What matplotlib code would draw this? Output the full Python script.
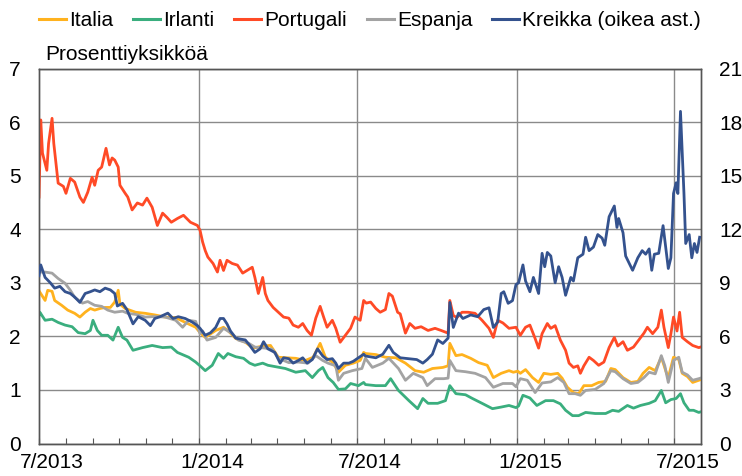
import matplotlib
matplotlib.use("Agg")
import matplotlib.pyplot as plt
import matplotlib.dates as mdates
from matplotlib.lines import Line2D
import pandas as pd

plt.rcParams['font.family'] = ['Liberation Sans', 'DejaVu Sans']

# ---------------- data ----------------
series_names = ["Italia", "Irlanti", "Portugali", "Espanja", "Kreikka (oikea ast.)"]

greece_dates = [
 "2013-07-01","2013-07-03","2013-07-08","2013-07-14","2013-07-19","2013-07-25","2013-07-31","2013-08-06","2013-08-11","2013-08-17",
 "2013-08-23","2013-08-29","2013-09-03","2013-09-09","2013-09-15","2013-09-21","2013-09-26","2013-09-29","2013-10-05","2013-10-10",
 "2013-10-17","2013-10-23","2013-10-31","2013-11-06","2013-11-11","2013-11-17","2013-11-26","2013-12-02","2013-12-08","2013-12-16",
 "2013-12-24","2013-12-30",
 "2014-01-02","2014-01-08","2014-01-14","2014-01-20","2014-01-25","2014-01-29","2014-02-02","2014-02-06","2014-02-12","2014-02-17",
 "2014-02-23","2014-02-28","2014-03-06","2014-03-12","2014-03-16","2014-03-21","2014-03-29","2014-04-04","2014-04-08","2014-04-14",
 "2014-04-19","2014-04-25","2014-04-30","2014-05-05","2014-05-11","2014-05-17","2014-05-23","2014-05-28","2014-06-03","2014-06-07",
 "2014-06-10","2014-06-16","2014-06-22","2014-06-27","2014-07-03","2014-07-09","2014-07-11","2014-07-23","2014-07-31","2014-08-07",
 "2014-08-12","2014-08-20","2014-08-30","2014-09-08","2014-09-15","2014-09-20","2014-09-26","2014-10-02","2014-10-08","2014-10-14",
 "2014-10-16","2014-10-20","2014-10-26","2014-10-31","2014-11-09","2014-11-17","2014-11-24","2014-11-30","2014-12-05","2014-12-10",
 "2014-12-14","2014-12-17","2014-12-22","2014-12-27","2014-12-31",
 "2015-01-03","2015-01-08","2015-01-11","2015-01-16","2015-01-20","2015-01-26","2015-01-30","2015-02-02","2015-02-05","2015-02-09",
 "2015-02-14","2015-02-18","2015-02-22","2015-02-26","2015-03-04","2015-03-07","2015-03-12","2015-03-18","2015-03-21","2015-03-25",
 "2015-03-30","2015-04-04","2015-04-09","2015-04-12","2015-04-17","2015-04-23","2015-04-26","2015-04-28","2015-05-03","2015-05-06",
 "2015-05-10","2015-05-14","2015-05-20","2015-05-25","2015-05-29","2015-06-02","2015-06-05","2015-06-08","2015-06-13","2015-06-18",
 "2015-06-21","2015-06-24","2015-06-27","2015-06-30","2015-07-03","2015-07-05","2015-07-08","2015-07-12","2015-07-14","2015-07-18",
 "2015-07-21","2015-07-24","2015-07-27","2015-07-30"]
greece_vals = [
 9.4,10.0,9.3,9.0,8.7,8.8,8.5,8.4,8.2,7.9,
 8.4,8.5,8.6,8.5,8.7,8.6,8.4,7.7,7.85,7.5,
 6.7,7.1,6.9,6.6,7.0,7.1,7.3,7.0,7.1,7.0,
 6.8,6.6,
 6.45,6.06,6.2,6.5,7.0,7.0,6.7,6.3,5.9,5.85,
 5.8,5.5,5.1,5.3,5.7,5.3,5.1,4.5,4.8,4.75,
 4.5,4.65,4.8,4.5,4.7,5.3,4.9,4.7,4.75,4.5,
 4.2,4.5,4.5,4.6,4.8,5.0,4.9,4.8,5.0,5.5,
 5.1,4.8,4.75,4.7,4.5,4.7,5.0,5.8,5.6,5.9,
 7.9,6.5,7.3,7.0,7.2,7.1,7.5,7.6,6.5,6.8,
 8.4,8.5,7.85,8.0,8.9,
 9.0,10.0,9.1,8.5,9.3,8.4,10.65,9.9,10.7,10.5,
 9.0,9.9,9.3,8.3,9.3,9.1,10.4,10.6,11.55,10.8,
 11.0,11.7,11.5,11.1,12.7,13.3,12.1,12.6,11.8,10.5,
 10.1,9.7,10.4,10.8,10.6,10.9,9.7,10.6,10.65,12.2,
 11.0,9.8,10.4,14.0,14.6,14.0,18.6,14.0,11.2,11.7,
 10.4,11.2,10.7,11.55]

portugal_dates = [
 "2013-07-01","2013-07-03","2013-07-05","2013-07-10","2013-07-12","2013-07-16","2013-07-18","2013-07-23","2013-07-29","2013-08-01",
 "2013-08-06","2013-08-11","2013-08-17","2013-08-21","2013-08-26","2013-08-31","2013-09-03","2013-09-07","2013-09-11","2013-09-16",
 "2013-09-20","2013-09-23","2013-09-26","2013-09-30","2013-10-02","2013-10-08","2013-10-11","2013-10-16","2013-10-22","2013-10-28",
 "2013-11-02","2013-11-08","2013-11-14","2013-11-20","2013-11-25","2013-11-30","2013-12-07","2013-12-14","2013-12-22","2013-12-30",
 "2014-01-02","2014-01-05","2014-01-08","2014-01-11","2014-01-17","2014-01-22","2014-01-25","2014-01-29","2014-02-02","2014-02-08",
 "2014-02-14","2014-02-20","2014-02-25","2014-03-03","2014-03-06","2014-03-10","2014-03-15","2014-03-18","2014-03-21","2014-03-27",
 "2014-04-02","2014-04-08","2014-04-14","2014-04-19","2014-04-25","2014-04-30","2014-05-05","2014-05-10","2014-05-15","2014-05-20",
 "2014-05-24","2014-05-28","2014-06-03","2014-06-07","2014-06-12","2014-06-18","2014-06-24","2014-06-29","2014-07-05","2014-07-09",
 "2014-07-12","2014-07-17","2014-07-23","2014-07-28","2014-08-03","2014-08-07","2014-08-11","2014-08-17","2014-08-20","2014-08-26",
 "2014-08-31","2014-09-06","2014-09-13","2014-09-21","2014-09-29","2014-10-06","2014-10-14","2014-10-16","2014-10-20","2014-10-24",
 "2014-10-30","2014-11-06","2014-11-14","2014-11-22","2014-11-30","2014-12-05","2014-12-10","2014-12-16","2014-12-23","2014-12-31",
 "2015-01-05","2015-01-11","2015-01-16","2015-01-22","2015-01-26","2015-01-30","2015-02-05","2015-02-09","2015-02-14","2015-02-20",
 "2015-02-26","2015-03-02","2015-03-07","2015-03-12","2015-03-15","2015-03-19","2015-03-25","2015-03-30","2015-04-05","2015-04-11",
 "2015-04-17","2015-04-23","2015-04-27","2015-05-03","2015-05-08","2015-05-15","2015-05-21","2015-05-27","2015-05-31","2015-06-06",
 "2015-06-12","2015-06-16","2015-06-19","2015-06-24","2015-06-27","2015-06-30","2015-07-04","2015-07-07","2015-07-10","2015-07-16",
 "2015-07-22","2015-07-29","2015-07-31"]
portugal_vals = [
 4.60,6.04,5.42,5.10,5.6,6.07,5.6,4.86,4.80,4.67,
 4.95,4.88,4.60,4.50,4.69,4.97,4.82,5.10,5.16,5.51,
 5.2,5.33,5.29,5.16,4.82,4.67,4.6,4.36,4.49,4.45,
 4.58,4.41,4.07,4.30,4.22,4.13,4.2,4.26,4.13,4.07,
 3.98,3.76,3.6,3.48,3.36,3.2,3.42,3.23,3.42,3.36,
 3.33,3.18,3.23,3.29,3.1,2.80,3.1,2.80,2.67,2.54,
 2.45,2.36,2.34,2.21,2.17,2.24,2.11,2.02,2.34,2.56,
 2.36,2.17,2.3,2.15,1.89,2.02,2.15,2.36,2.30,2.67,
 2.62,2.64,2.52,2.45,2.5,2.80,2.75,2.45,2.42,2.06,
 2.24,2.15,2.18,2.11,2.15,2.11,2.06,2.67,2.39,2.35,
 2.45,2.45,2.43,2.30,2.15,1.98,2.30,2.25,2.15,2.17,
 2.02,2.17,2.21,1.96,1.78,2.05,2.24,2.15,2.2,1.93,
 1.74,1.50,1.42,1.45,1.31,1.45,1.61,1.55,1.46,1.52,
 1.79,1.98,1.82,1.90,1.74,1.80,1.93,2.06,2.17,2.05,
 2.17,2.49,2.17,1.79,2.05,2.36,2.1,2.45,1.98,1.90,
 1.83,1.79,1.80]

italy_dates = [
 "2013-07-01","2013-07-08","2013-07-11","2013-07-16","2013-07-19","2013-07-27","2013-08-03","2013-08-11","2013-08-17","2013-08-23",
 "2013-08-29","2013-09-03","2013-09-09","2013-09-15","2013-09-21","2013-09-26","2013-09-30","2013-10-02","2013-10-08","2013-10-20",
 "2013-10-31","2013-11-11","2013-11-23","2013-12-05","2013-12-16","2013-12-28",
 "2014-01-02","2014-01-08","2014-01-20","2014-01-29","2014-02-03","2014-02-12","2014-02-23","2014-03-04","2014-03-15","2014-03-24",
 "2014-04-02","2014-04-12","2014-04-22","2014-05-03","2014-05-12","2014-05-20","2014-05-26","2014-06-04","2014-06-10","2014-06-18",
 "2014-06-27","2014-07-05","2014-07-09","2014-07-11","2014-07-23","2014-08-03","2014-08-15","2014-08-26","2014-09-06","2014-09-16",
 "2014-09-26","2014-10-08","2014-10-14","2014-10-16","2014-10-23","2014-10-30","2014-11-09","2014-11-18","2014-11-28","2014-12-05",
 "2014-12-14","2014-12-23","2014-12-28",
 "2015-01-02","2015-01-05","2015-01-11","2015-01-19","2015-01-26","2015-02-01","2015-02-09","2015-02-17","2015-02-22","2015-02-28",
 "2015-03-07","2015-03-13","2015-03-19","2015-03-28","2015-04-05","2015-04-13","2015-04-19","2015-04-24","2015-05-03","2015-05-12",
 "2015-05-20","2015-05-26","2015-06-02","2015-06-09","2015-06-16","2015-06-21","2015-06-24","2015-06-30","2015-07-06","2015-07-10",
 "2015-07-16","2015-07-22","2015-07-29","2015-07-31"]
italy_vals = [
 2.85,2.67,2.86,2.84,2.67,2.58,2.49,2.43,2.36,2.45,
 2.52,2.49,2.52,2.54,2.54,2.64,2.86,2.6,2.52,2.45,
 2.43,2.40,2.36,2.35,2.26,2.17,
 2.07,1.98,2.11,2.17,2.11,1.96,1.89,1.78,1.82,1.83,
 1.61,1.60,1.59,1.55,1.61,1.87,1.61,1.51,1.33,1.46,
 1.50,1.55,1.70,1.68,1.66,1.61,1.60,1.50,1.36,1.33,
 1.40,1.42,1.45,1.87,1.64,1.66,1.59,1.51,1.46,1.23,
 1.31,1.36,1.33,
 1.35,1.31,1.38,1.23,1.14,1.31,1.29,1.31,1.22,1.05,
 0.95,0.93,1.08,1.08,1.14,1.16,1.40,1.38,1.23,1.14,
 1.16,1.31,1.42,1.36,1.61,1.36,1.23,1.61,1.57,1.31,
 1.25,1.14,1.18,1.19]

spain_dates = [
 "2013-07-01","2013-07-08","2013-07-16","2013-07-23","2013-07-31","2013-08-06","2013-08-11","2013-08-20","2013-08-26","2013-09-03",
 "2013-09-11","2013-09-18","2013-09-26","2013-10-05","2013-10-11","2013-10-20","2013-10-31","2013-11-11","2013-11-23","2013-12-05",
 "2013-12-13","2013-12-20","2013-12-28",
 "2014-01-02","2014-01-05","2014-01-10","2014-01-20","2014-01-29","2014-02-08","2014-02-15","2014-02-27","2014-03-06","2014-03-18",
 "2014-03-26","2014-04-02","2014-04-14","2014-04-25","2014-05-06","2014-05-15","2014-05-23","2014-05-29","2014-06-07","2014-06-10",
 "2014-06-16","2014-06-26","2014-07-07","2014-07-11","2014-07-19","2014-07-31","2014-08-07","2014-08-18","2014-08-26","2014-09-04",
 "2014-09-15","2014-09-20","2014-09-29","2014-10-09","2014-10-14","2014-10-16","2014-10-23","2014-11-03","2014-11-14","2014-11-26",
 "2014-12-05","2014-12-16","2014-12-27","2014-12-31",
 "2015-01-05","2015-01-13","2015-01-22","2015-01-30","2015-02-09","2015-02-17","2015-02-24","2015-03-02","2015-03-09","2015-03-15",
 "2015-03-21","2015-04-01","2015-04-11","2015-04-19","2015-04-24","2015-05-03","2015-05-12","2015-05-20","2015-05-27","2015-06-02",
 "2015-06-09","2015-06-16","2015-06-20","2015-06-24","2015-06-30","2015-07-06","2015-07-10","2015-07-16","2015-07-22","2015-07-29",
 "2015-07-31"]
spain_vals = [
 3.2,3.2,3.18,3.08,2.99,2.86,2.73,2.62,2.65,2.58,
 2.56,2.49,2.45,2.47,2.43,2.41,2.36,2.37,2.36,2.30,
 2.17,2.30,2.28,
 2.05,2.1,1.93,1.98,2.15,2.05,1.93,1.87,1.80,1.78,
 1.76,1.59,1.51,1.52,1.50,1.64,1.55,1.50,1.45,1.18,
 1.31,1.36,1.40,1.59,1.42,1.50,1.59,1.40,1.18,1.31,
 1.23,1.08,1.21,1.21,1.22,1.55,1.36,1.34,1.31,1.23,
 1.05,1.12,1.12,1.06,
 1.21,1.18,0.95,1.13,1.15,1.23,1.14,0.93,0.93,0.90,
 0.99,1.01,1.12,1.36,1.34,1.21,1.12,1.14,1.23,1.33,
 1.30,1.64,1.45,1.14,1.55,1.61,1.33,1.28,1.18,1.21,
 1.22]

ireland_dates = [
 "2013-07-01","2013-07-02","2013-07-08","2013-07-16","2013-07-23","2013-07-31","2013-08-08","2013-08-15","2013-08-23","2013-08-29",
 "2013-09-01","2013-09-06","2013-09-11","2013-09-18","2013-09-24","2013-09-30","2013-10-05","2013-10-10","2013-10-17","2013-10-28",
 "2013-11-08","2013-11-20","2013-11-30","2013-12-07","2013-12-20","2013-12-28",
 "2014-01-02","2014-01-08","2014-01-16","2014-01-23","2014-01-29","2014-02-03","2014-02-12","2014-02-21","2014-02-28","2014-03-06",
 "2014-03-15","2014-03-21","2014-03-31","2014-04-10","2014-04-22","2014-05-03","2014-05-11","2014-05-18","2014-05-23","2014-05-29",
 "2014-06-04","2014-06-10","2014-06-18","2014-06-24","2014-07-03","2014-07-09","2014-07-11","2014-07-23","2014-08-03","2014-08-09",
 "2014-08-18","2014-08-30","2014-09-09","2014-09-15","2014-09-21","2014-10-02","2014-10-11","2014-10-16","2014-10-23","2014-11-03",
 "2014-11-11","2014-11-22","2014-12-04","2014-12-14","2014-12-23","2014-12-31",
 "2015-01-03","2015-01-08","2015-01-16","2015-01-24","2015-02-03","2015-02-12","2015-02-20","2015-02-26","2015-03-06","2015-03-13",
 "2015-03-21","2015-04-01","2015-04-13","2015-04-21","2015-04-28","2015-05-08","2015-05-15","2015-05-23","2015-06-02","2015-06-09",
 "2015-06-16","2015-06-21","2015-06-27","2015-07-03","2015-07-08","2015-07-12","2015-07-18","2015-07-23","2015-07-29","2015-07-31"]
ireland_vals = [
 2.39,2.45,2.30,2.32,2.26,2.21,2.18,2.07,2.05,2.11,
 2.30,2.11,2.02,2.02,1.93,2.17,1.98,1.93,1.74,1.79,
 1.83,1.79,1.80,1.70,1.61,1.52,
 1.45,1.36,1.46,1.68,1.59,1.68,1.62,1.59,1.50,1.46,
 1.50,1.46,1.43,1.40,1.33,1.36,1.23,1.36,1.42,1.23,
 1.14,1.01,1.02,1.12,1.08,1.14,1.10,1.08,1.08,1.21,
 0.99,0.80,0.65,0.84,0.75,0.75,0.80,1.08,0.93,0.91,
 0.84,0.75,0.65,0.68,0.71,0.67,
 0.70,0.90,0.85,0.71,0.80,0.80,0.74,0.62,0.52,0.52,
 0.58,0.56,0.56,0.62,0.60,0.71,0.66,0.71,0.75,0.80,
 0.99,0.76,0.82,0.84,0.93,0.76,0.62,0.62,0.58,0.59]

# month boundaries with vertical gridlines; labels sit in the middle of the month
grid_dates = ["2014-01-01", "2014-07-01", "2015-01-01", "2015-07-01"]
label_dates = ["2013-07-16", "2014-01-16", "2014-07-16", "2015-01-16", "2015-07-16"]
tick_labels = ["7/2013", "1/2014", "7/2014", "1/2015", "7/2015"]
left_ticks = [0, 1, 2, 3, 4, 5, 6, 7]
right_ticks = [0, 3, 6, 9, 12, 15, 18, 21]
y_unit_label = "Prosenttiyksikköä"

# ---------------- styling ----------------
c_italy = "#FFB21E"
c_ireland = "#3AAE7E"
c_portugal = "#FF4A26"
c_spain = "#A3A3A3"
c_greece = "#34528E"
lw = 2.0
fs = 15
grid_c = "#8A8A8A"

fig = plt.figure(figsize=(7.42, 4.76), dpi=100)
ax = fig.add_axes([39/742, 32.5/476, 661.5/742, 375/476])
ax2 = ax.twinx()

def D(lst):
    return pd.to_datetime(lst)

ax.plot(D(italy_dates), italy_vals, color=c_italy, lw=lw, zorder=3)
ax.plot(D(ireland_dates), ireland_vals, color=c_ireland, lw=lw, zorder=3)
ax.plot(D(portugal_dates), portugal_vals, color=c_portugal, lw=lw, zorder=3)
ax.plot(D(spain_dates), spain_vals, color=c_spain, lw=lw, zorder=3)
ax2.plot(D(greece_dates), greece_vals, color=c_greece, lw=lw, zorder=3)

x0 = pd.Timestamp("2013-07-01")
x1 = pd.Timestamp("2015-07-31")
ax.set_xlim(x0, x1)
ax.set_ylim(0, 7)
ax2.set_ylim(0, 21)

ax.set_yticks(left_ticks)
ax2.set_yticks(right_ticks)
ax.tick_params(axis='y', length=0, pad=13, labelsize=fs)
ax2.tick_params(axis='y', length=0, pad=13.5, labelsize=fs)

ax.set_xticks(D(label_dates))
ax.set_xticklabels(tick_labels)
ax.xaxis.set_minor_locator(mdates.MonthLocator())
ax.tick_params(axis='x', which='major', length=0, pad=6.5, labelsize=fs)
ax.tick_params(axis='x', which='minor', direction='in', length=4.5, width=0.8, color="#555555")

ax.grid(True, axis='y', which='major', color=grid_c, lw=1.0, zorder=0)
for gd in D(grid_dates):
    ax.axvline(gd, color=grid_c, lw=1.0, zorder=0)
ax.set_axisbelow(True)
for sp in list(ax.spines.values()) + list(ax2.spines.values()):
    sp.set_color("#555555")
    sp.set_linewidth(1.0)

ax.text(0.009, 1.012, y_unit_label, transform=ax.transAxes, fontsize=fs,
        ha='left', va='bottom')

colors = [c_italy, c_ireland, c_portugal, c_spain, c_greece]
handles = [Line2D([0], [0], color=c, lw=2.2) for c in colors]
fig.legend(handles, series_names, loc='center', bbox_to_anchor=(370/742, 1 - 21/476),
           ncol=5, frameon=False, fontsize=fs, handlelength=1.3,
           handletextpad=0.15, columnspacing=0.95, borderaxespad=0)

fig.savefig("out.png", dpi=100)
